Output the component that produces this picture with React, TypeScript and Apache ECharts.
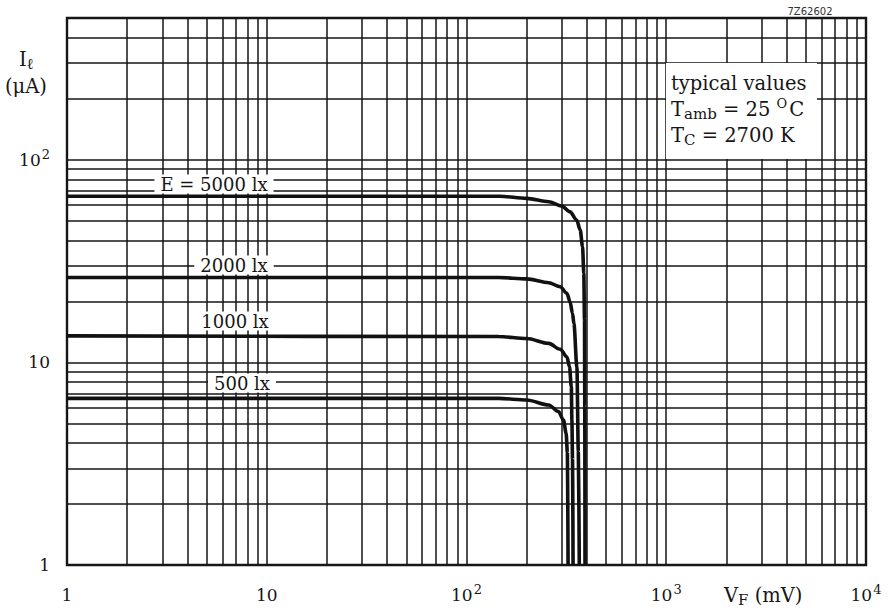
import React, { useEffect, useRef } from 'react';
import * as echarts from 'echarts';

// ---- data ----
// forward voltage V_F (mV) vs light current I_l (uA), for four illuminances
const curveNames = ['E = 5000 lx', '2000 lx', '1000 lx', '500 lx'];

const curve5000: [number, number][] = [
  [1, 66], [147, 66], [200, 64.4], [258, 62], [300, 59], [330, 55.3], [356, 50.4],
  [371, 44.9], [381, 37.2], [386.6, 27.5], [389.8, 16.2], [391, 6], [392, 1],
];
const curve2000: [number, number][] = [
  [1, 26.2], [145, 26.2], [200, 25.8], [258, 24.7], [294.5, 23.6], [318, 21.9], [330, 19.9],
  [339.5, 17.4], [345, 15.5], [357, 9.5], [363, 3.6], [367, 1],
];
const curve1000: [number, number][] = [
  [1, 13.5], [145, 13.4], [200, 13.1], [258, 12.4], [294.5, 11.6], [318, 10.66], [327.8, 9.51],
  [334.8, 7.58], [337, 5.19], [339.5, 3.3], [341.6, 1],
];
const curve500: [number, number][] = [
  [1, 6.64], [145, 6.64], [200, 6.52], [258, 6.16], [288.8, 5.71], [306, 5.19], [315.4, 4.46],
  [320, 3.56], [322.5, 1],
];

// grid lines of the log-log paper
const xGridValues = [
  2, 3, 4, 5, 6, 7, 8, 9, 10,
  20, 30, 40, 50, 60, 70, 80, 90, 100,
  200, 300, 400, 500, 600, 700, 800, 900, 1000,
  2000, 3000, 4000, 5000, 6000, 7000, 8000, 9000,
];
const yGridValues = [
  2, 3, 4, 5, 6, 7, 8, 9, 10,
  20, 30, 40, 50, 60, 70, 80, 90, 100,
  200, 300, 400,
];

const xMin = 1;
const xMax = 10000;
const yMin = 1;
const yMax = 500;

const INK = '#161616';
const SERIF = '"DejaVu Serif", "Liberation Serif", serif';

const powLabel = (v: number) => {
  const l = Math.log10(v);
  const e = Math.round(l);
  if (Math.abs(l - e) > 1e-6) return '';
  if (e === 0) return '{b|1}';
  if (e === 1) return '{b|10}';
  return '{b|10}{s|' + e + '}';
};

const labelRich = {
  b: { fontSize: 17, fontFamily: SERIF, color: INK, lineHeight: 24, verticalAlign: 'middle' },
  s: { fontSize: 13, fontFamily: SERIF, color: INK, lineHeight: 6, verticalAlign: 'top', padding: [0, 0, 0, 1] },
};

const textRich = {
  n: { fontSize: 19.5, fontFamily: SERIF, color: INK, lineHeight: 24, verticalAlign: 'middle' },
  sub: { fontSize: 15, fontFamily: SERIF, color: INK, lineHeight: 6, verticalAlign: 'bottom' },
  sup: { fontSize: 13, fontFamily: SERIF, color: INK, lineHeight: 10, verticalAlign: 'top', padding: [0, 2, 0, 0] },
};

function txt(x: number, y: number, text: string, extra: any = {}) {
  return {
    type: 'text',
    x,
    y,
    z: 100,
    silent: true,
    style: {
      text,
      fill: INK,
      font: '19.5px ' + SERIF,
      align: 'left',
      verticalAlign: 'middle',
      textAlign: 'left',
      textVerticalAlign: 'middle',
      rich: textRich,
      ...extra,
    },
  };
}

function curveLabel(x: number, y: number, text: string) {
  return {
    type: 'text',
    x,
    y,
    z: 100,
    silent: true,
    style: {
      text,
      fill: INK,
      font: '18px ' + SERIF,
      align: 'center',
      verticalAlign: 'middle',
      textAlign: 'center',
      textVerticalAlign: 'middle',
      backgroundColor: '#ffffff',
      padding: [1, 6, 0, 6],
    },
  };
}

export default function App() {
  const ref = useRef<HTMLDivElement>(null);

  useEffect(() => {
    document.body.style.margin = '0';
    if (!ref.current) return;
    const chart = echarts.init(ref.current, null, { renderer: 'svg' });

    const curveSeries = [curve5000, curve2000, curve1000, curve500].map((d, i) => ({
      name: curveNames[i],
      type: 'line',
      data: d,
      showSymbol: false,
      smooth: 0.3,
      smoothMonotone: 'x',
      z: 5,
      silent: true,
      lineStyle: { color: '#111111', width: 3.6 },
    }));

    chart.setOption({
      animation: false,
      backgroundColor: '#ffffff',
      grid: {
        left: 67,
        right: 22,
        top: 18,
        bottom: 48,
        show: true,
        borderColor: INK,
        borderWidth: 2.4,
        backgroundColor: 'transparent',
      },
      xAxis: {
        type: 'log',
        logBase: 10,
        min: xMin,
        max: xMax,
        axisLine: { show: false },
        axisTick: { show: false },
        splitLine: { show: false },
        axisLabel: {
          margin: 18,
          formatter: powLabel,
          rich: labelRich,
          lineHeight: 24,
          showMinLabel: true,
          showMaxLabel: true,
        },
      },
      yAxis: {
        type: 'log',
        logBase: 10,
        min: yMin,
        max: yMax,
        axisLine: { show: false },
        axisTick: { show: false },
        splitLine: { show: false },
        axisLabel: {
          margin: 17,
          formatter: powLabel,
          rich: labelRich,
          lineHeight: 24,
        },
      },
      series: [
        {
          name: 'paper',
          type: 'line',
          data: [[1, 1]],
          showSymbol: false,
          silent: true,
          z: 2,
          lineStyle: { width: 0 },
          markLine: {
            silent: true,
            symbol: ['none', 'none'],
            label: { show: false },
            emphasis: { disabled: true },
            lineStyle: { type: 'solid', color: '#151515', width: 1.5 },
            data: [
              ...xGridValues.map((v) => ({ xAxis: v })),
              ...yGridValues.map((v) => ({ yAxis: v })),
            ],
          },
        },
        ...curveSeries,
      ],
      graphic: [
        // white panel for the conditions note
        {
          type: 'rect',
          z: 90,
          silent: true,
          shape: { x: 666, y: 63, width: 151, height: 96 },
          style: { fill: '#ffffff' },
        },
        txt(671, 83, '{n|typical values}'),
        txt(671, 109, '{n|T}{sub|amb}{n| = 25 }{sup|O}{n|C}'),
        txt(671, 135, '{n|T}{sub|C}{n| = 2700 K}'),
        // curve labels
        curveLabel(214, 184, curveNames[0]),
        curveLabel(234, 265, curveNames[1]),
        curveLabel(235, 321, curveNames[2]),
        curveLabel(242, 383, curveNames[3]),
        // axis names
        txt(19, 59, '{n|I}{sub|ℓ}'),
        txt(5, 86, '{n|(μA)}'),
        txt(724, 595, '{n|V}{sub|F}{n| (mV)}'),
        {
          type: 'text',
          x: 810,
          y: 11,
          z: 100,
          silent: true,
          style: {
            text: '7Z62602',
            fill: '#333333',
            font: '10px "DejaVu Sans", sans-serif',
            align: 'center',
            verticalAlign: 'middle',
            textAlign: 'center',
            textVerticalAlign: 'middle',
          },
        },
      ],
    });

    return () => {
      chart.dispose();
    };
  }, []);

  return <div ref={ref} style={{ width: 888, height: 613 }} />;
}
